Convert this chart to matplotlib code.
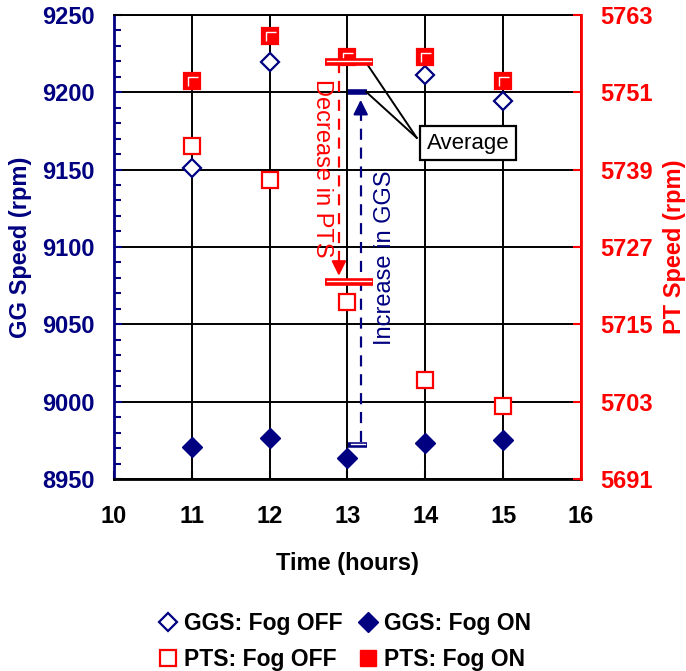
"""Gas generator and power turbine speeds with fog system on and off."""
import matplotlib

matplotlib.use("Agg")
import matplotlib.pyplot as plt
from matplotlib.lines import Line2D
from matplotlib.path import Path
from matplotlib.ticker import MultipleLocator

plt.rcParams["font.family"] = ["Liberation Sans", "DejaVu Sans"]

NAVY = "#000080"
RED = "#ff0000"

# data
hours_ggs_off = [11, 12, 14, 15]
ggs_fog_off = [9151, 9219.5, 9211, 9194]
hours = [11, 12, 13, 14, 15]
ggs_fog_on = [8971, 8976.5, 8963.5, 8973.5, 8975]
pts_fog_off = [5742.7, 5737.4, 5718.5, 5706.4, 5702.3]
pts_fog_on = [5752.8, 5759.7, 5756.5, 5756.5, 5752.8]

ggs_avg_off = 9200.3
ggs_avg_on = 8972
pts_avg_off = 5721.5
pts_avg_on = 5755.6

x_ticks = [10, 11, 12, 13, 14, 15, 16]
ggs_ticks = [8950, 9000, 9050, 9100, 9150, 9200, 9250]
pts_ticks = [5691, 5703, 5715, 5727, 5739, 5751, 5763]

# white highlight drawn inside the filled squares
corner = Path([(-0.35, -0.45), (-0.35, 0.4), (0.5, 0.4)], [Path.MOVETO, Path.LINETO, Path.LINETO])

fig = plt.figure(figsize=(6.86, 6.71), dpi=100)
ax = fig.add_axes([0.166, 0.286, 0.681, 0.692])
ax2 = ax.twinx()

ax.set_xlim(10, 16)
ax.set_ylim(8950, 9250)
ax2.set_ylim(5691, 5763)
ax.set_xticks(x_ticks)
ax.set_yticks(ggs_ticks)
ax2.set_yticks(pts_ticks)
ax.yaxis.set_minor_locator(MultipleLocator(10))

ax.grid(True, which="major", color="black", lw=1.4)
ax.set_axisbelow(True)

ax.spines["left"].set_color(NAVY)
ax.spines["left"].set_linewidth(2)
ax.spines["bottom"].set_linewidth(2)
ax.spines["top"].set_linewidth(1.4)
ax.spines["right"].set_visible(False)
ax2.spines["right"].set_color(RED)
ax2.spines["right"].set_linewidth(2)
ax2.spines["left"].set_visible(False)
ax2.spines["top"].set_visible(False)
ax2.spines["bottom"].set_visible(False)

ax.tick_params(axis="y", which="major", direction="in", length=6, width=1.5, color=NAVY,
               labelcolor=NAVY, labelsize=17, pad=14)
ax.tick_params(axis="y", which="minor", direction="in", length=5, width=1.5, color=NAVY)
ax.tick_params(axis="x", direction="in", length=6, width=1.5, labelsize=17, pad=19)
ax2.tick_params(axis="y", direction="in", length=6, width=1.5, color=RED, labelcolor=RED,
                labelsize=17, pad=14)
for lab in ax.get_xticklabels() + ax.get_yticklabels() + ax2.get_yticklabels():
    lab.set_fontweight("bold")

ax.set_xlabel("Time (hours)", fontsize=17, fontweight="bold", labelpad=17)
ax.set_ylabel("GG Speed (rpm)", fontsize=17, fontweight="bold", color=NAVY, labelpad=7)
ax2.set_ylabel("PT Speed (rpm)", fontsize=17, fontweight="bold", color=RED, labelpad=7)

# series
ax.plot(hours_ggs_off, ggs_fog_off, ls="none", marker="D", ms=9.5, mfc="white", mec=NAVY, mew=1.6, zorder=4)
ax.plot(hours, ggs_fog_on, ls="none", marker="D", ms=10, mfc=NAVY, mec=NAVY, zorder=4)
ax2.plot(hours, pts_fog_off, ls="none", marker="s", ms=11.5, mfc="white", mec=RED, mew=1.6, zorder=4)
ax2.plot(hours, pts_fog_on, ls="none", marker="s", ms=11.5, mfc=RED, mec=RED, mew=1.6, zorder=4)
ax2.plot(hours, pts_fog_on, ls="none", marker=corner, ms=8, mfc="none", mec="white", mew=1, zorder=5)

# average bars
for yv in [pts_avg_on, pts_avg_off]:
    ax2.plot([12.71, 13.33], [yv, yv], color=RED, lw=5.5, solid_capstyle="butt", zorder=6)
    ax2.plot([12.74, 13.30], [yv + 0.25, yv + 0.25], color="white", lw=1, zorder=7)
for yv in [ggs_avg_off, ggs_avg_on]:
    ax.plot([13.01, 13.25], [yv, yv], color=NAVY, lw=4, solid_capstyle="butt", zorder=6)
ax.plot([13.04, 13.22], [ggs_avg_on + 0.6, ggs_avg_on + 0.6], color="white", lw=1, zorder=7)

# change arrows
ax2.plot([12.89, 12.89], [pts_avg_on, pts_avg_off + 2.5], color=RED, lw=1.6, ls=(0, (5, 3.5)), zorder=3)
ax2.annotate("", xy=(12.89, pts_avg_off + 0.6), xytext=(12.89, pts_avg_off + 3),
             arrowprops=dict(arrowstyle="-|>", color=RED, lw=1.5, mutation_scale=22), zorder=6)
ax.plot([13.17, 13.17], [ggs_avg_on + 2, ggs_avg_off - 12], color=NAVY, lw=1.6, ls=(0, (5, 3.5)), zorder=3)
ax.annotate("", xy=(13.17, ggs_avg_off - 3.5), xytext=(13.17, ggs_avg_off - 14),
            arrowprops=dict(arrowstyle="-|>", color=NAVY, lw=1.5, mutation_scale=22), zorder=6)

ax.text(12.67, 9151, "Decrease in PTS", rotation=-90, color=RED, fontsize=17,
        ha="center", va="center", zorder=8)
ax.text(13.48, 9093, "Increase in GGS", rotation=90, color=NAVY, fontsize=17,
        ha="center", va="center", zorder=8)

# "Average" callout
ax.plot([13.89, 13.25], [9170.5, 9218.3], color="black", lw=1.4, zorder=6)
ax.plot([13.89, 13.24], [9170.5, 9200.2], color="black", lw=1.4, zorder=6)
ax.text(14.55, 9167, "Average", fontsize=16, ha="center", va="center", zorder=8,
        bbox=dict(boxstyle="square,pad=0.3", fc="white", ec="black", lw=1.6))

handles = [
    Line2D([], [], ls="none", marker="D", ms=9, mfc="white", mec=NAVY, mew=1.6),
    Line2D([], [], ls="none", marker="s", ms=11, mfc="white", mec=RED, mew=1.6),
    Line2D([], [], ls="none", marker="D", ms=10, mfc=NAVY, mec=NAVY),
    Line2D([], [], ls="none", marker="s", ms=11, mfc=RED, mec=RED),
]
labels = ["GGS: Fog OFF", "PTS: Fog OFF", "GGS: Fog ON", "PTS: Fog ON"]
fig.legend(handles, labels, loc="center", bbox_to_anchor=(0.503, 0.044), ncol=2, frameon=False,
           prop=dict(size=16.5, weight="bold"), handlelength=0.8, handletextpad=0.3,
           columnspacing=0.7, labelspacing=0.6)

fig.savefig("out.png", dpi=100)
